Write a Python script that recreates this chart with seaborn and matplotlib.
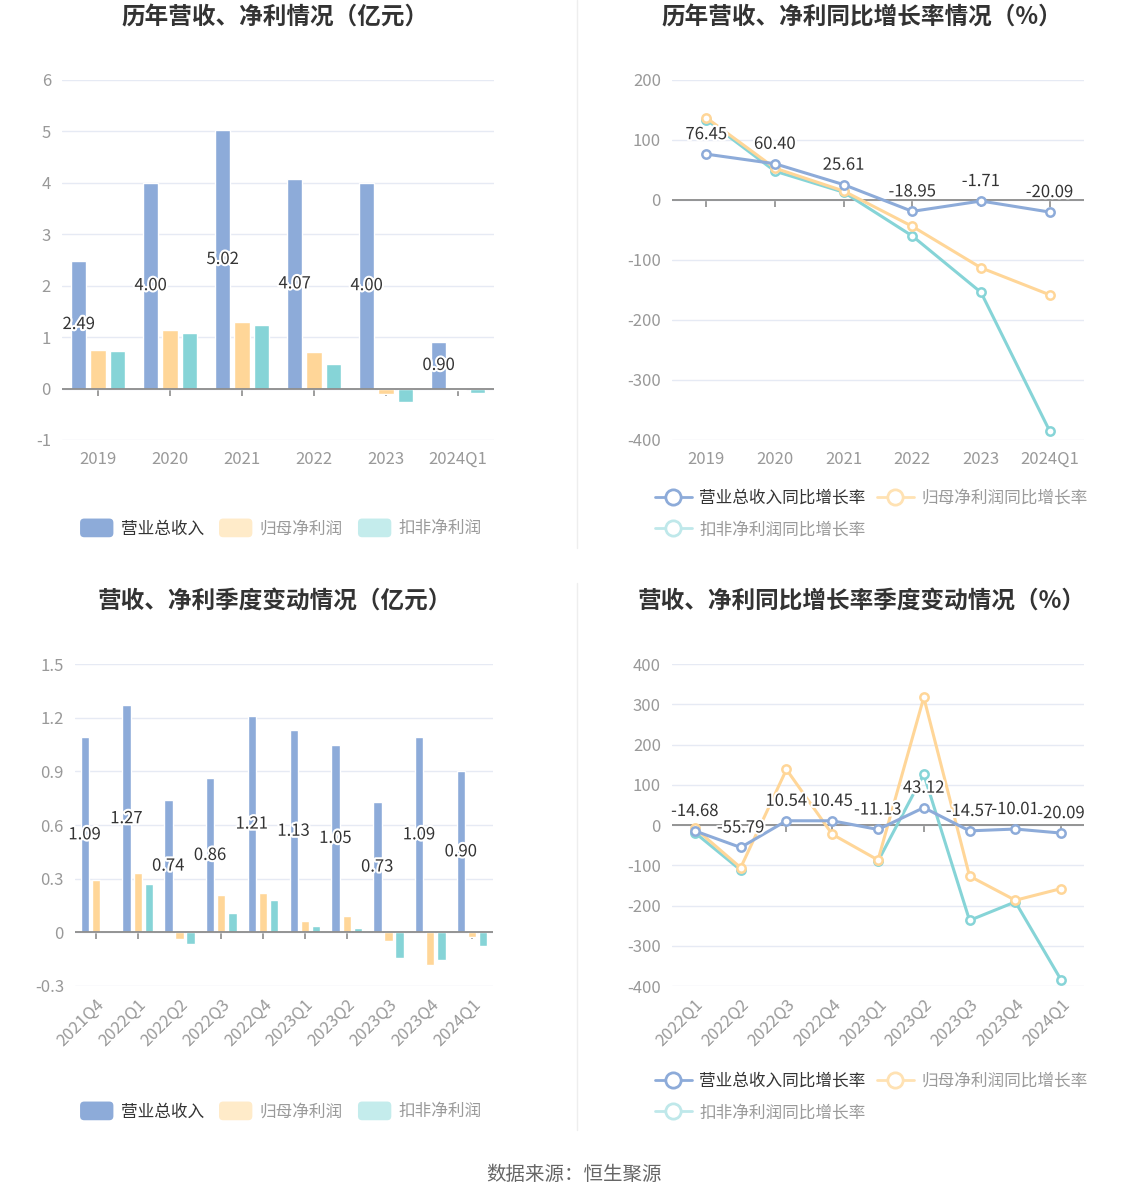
import numpy as np
import pandas as pd
import seaborn as sns
import matplotlib
matplotlib.use('Agg')
import matplotlib.pyplot as plt
from matplotlib.lines import Line2D
from matplotlib.patches import Patch, FancyBboxPatch
from matplotlib.legend_handler import HandlerPatch
import matplotlib.patheffects as pe

# ---------------- data ----------------
years = ['2019', '2020', '2021', '2022', '2023', '2024Q1']
rev_year = [2.49, 4.00, 5.02, 4.07, 4.00, 0.90]
np_year = [0.75, 1.14, 1.29, 0.71, -0.10, -0.03]
ded_year = [0.74, 1.09, 1.23, 0.48, -0.27, -0.08]

rev_g_year = [76.45, 60.40, 25.61, -18.95, -1.71, -20.09]
np_g_year = [137, 53, 15, -44, -113, -158]
ded_g_year = [134, 48, 13, -60, -154, -385]

quarters = ['2021Q4', '2022Q1', '2022Q2', '2022Q3', '2022Q4',
            '2023Q1', '2023Q2', '2023Q3', '2023Q4', '2024Q1']
rev_q = [1.09, 1.27, 0.74, 0.86, 1.21, 1.13, 1.05, 0.73, 1.09, 0.90]
np_q = [0.29, 0.33, -0.04, 0.21, 0.22, 0.065, 0.093, -0.046, -0.185, -0.028]
ded_q = [np.nan, 0.27, -0.067, 0.11, 0.18, 0.033, 0.022, -0.145, -0.154, -0.074]

g_quarters = ['2022Q1', '2022Q2', '2022Q3', '2022Q4', '2023Q1',
              '2023Q2', '2023Q3', '2023Q4', '2024Q1']
rev_g_q = [-14.68, -55.79, 10.54, 10.45, -11.13, 43.12, -14.57, -10.01, -20.09]
np_g_q = [-8, -106, 138, -23, -87, 317, -127, -187, -158]
ded_g_q = [-19, -112, np.nan, np.nan, -90, 126, -237, -191, -385]

bar_names = ['营业总收入', '归母净利润', '扣非净利润']
line_names = ['营业总收入同比增长率', '归母净利润同比增长率', '扣非净利润同比增长率']

# ---------------- style ----------------
sns.set_theme(style='white')
plt.rcParams['font.family'] = ['Noto Sans CJK SC', 'DejaVu Sans']
plt.rcParams['axes.unicode_minus'] = False

C_BLUE = '#8dabd9'
C_ORANGE = '#ffd698'
C_TEAL = '#86d4d7'
colors = [C_BLUE, C_ORANGE, C_TEAL]
legend_patch_colors = [C_BLUE, '#ffebc9', '#c4ecec']
legend_text_colors = ['#333333', '#9a9a9a', '#9a9a9a']
GRID = '#e6eaf4'
TICK = '#999999'
AXIS = '#8c8c8c'

W, H = 1148, 1202
fig = plt.figure(figsize=(W / 100, H / 100), dpi=100)
fig.patch.set_facecolor('white')


def px_axes(l, t, r, b):
    return fig.add_axes([l / W, 1 - b / H, (r - l) / W, (b - t) / H])


def style_axes(ax, ylim, yticks, ylabels, n, cats, rot=False):
    ax.set_ylim(*ylim)
    ax.set_xlim(-0.5, n - 0.5)
    ax.set_yticks(yticks)
    ax.set_yticklabels(ylabels)
    for s in ax.spines.values():
        s.set_visible(False)
    ax.grid(axis='y', color=GRID, lw=1)
    ax.grid(axis='x', visible=False)
    ax.set_axisbelow(True)
    ax.tick_params(axis='y', length=0, labelsize=12, labelcolor=TICK, pad=8)
    ax.set_xticks(range(n))
    if rot:
        ax.set_xticklabels(cats, rotation=45, ha='right', rotation_mode='anchor')
        ax.tick_params(axis='x', length=0, labelsize=12, labelcolor=TICK, pad=7)
    else:
        ax.set_xticklabels(cats)
        ax.tick_params(axis='x', length=0, labelsize=12, labelcolor=TICK, pad=8)
    ax.set_xlabel('')
    ax.set_ylabel('')
    # zero axis line with small ticks
    ax.axhline(0, color=AXIS, lw=1.3, zorder=2.5)
    loc = (0 - ylim[0]) / (ylim[1] - ylim[0])
    sec = ax.secondary_xaxis(loc)
    sec.xaxis.set_ticks_position('bottom')
    sec.set_xticks(range(n))
    sec.set_xticklabels([''] * n)
    sec.tick_params(axis='x', direction='out', length=5, width=1.2, color=AXIS)
    for k in ['top', 'bottom', 'left', 'right']:
        sec.spines[k].set_visible(False)


def bar_panel(ax, cats, rev, npv, ded, ylim, yticks, ylabels, gap):
    n = len(cats)
    df = pd.DataFrame({
        'cat': cats * 3,
        'series': [bar_names[0]] * n + [bar_names[1]] * n + [bar_names[2]] * n,
        'value': list(rev) + list(npv) + list(ded),
    })
    sns.barplot(data=df, x='cat', y='value', hue='series', hue_order=bar_names,
                order=cats, palette=colors, width=0.8, gap=gap, saturation=1,
                errorbar=None, legend=False, ax=ax, zorder=2)
    style_axes(ax, ylim, yticks, ylabels, n, cats, rot=(n > 6))
    for rect, v in zip(ax.containers[0], rev):
        ax.text(rect.get_x() + rect.get_width() / 2, v / 2, f'{v:.2f}',
                ha='center', va='center', fontsize=12, color='#333333', zorder=5,
                path_effects=[pe.withStroke(linewidth=3, foreground='white')])


def line_panel(ax, cats, rev, npv, ded, ylim, yticks, ylabels):
    n = len(cats)
    x = np.arange(n)
    for vals, c, z in zip([ded, npv, rev], [C_TEAL, C_ORANGE, C_BLUE], [3, 3.5, 4]):
        ax.plot(x, vals, color=c, lw=2.2, marker='o', ms=6, mfc='white',
                mec=c, mew=1.8, zorder=z)
    style_axes(ax, ylim, yticks, ylabels, n, cats, rot=(n > 6))
    for i, v in enumerate(rev):
        ax.annotate(f'{v:.2f}', (i, v), xytext=(0, 14), textcoords='offset points',
                    ha='center', va='center', fontsize=12, color='#333333', zorder=6,
                    path_effects=[pe.withStroke(linewidth=3, foreground='white')])


# ---------------- panels ----------------
ax1 = px_axes(62, 80, 494, 440)
bar_panel(ax1, years, rev_year, np_year, ded_year, (-1, 6),
          list(range(-1, 7)), [str(v) for v in range(-1, 7)], gap=0.2)

ax2 = px_axes(672, 80, 1084, 440)
line_panel(ax2, years, rev_g_year, np_g_year, ded_g_year, (-400, 200),
           list(range(-400, 201, 100)), [str(v) for v in range(-400, 201, 100)])

ax3 = px_axes(75, 664, 493, 986)
qt = [-0.3, 0, 0.3, 0.6, 0.9, 1.2, 1.5]
bar_panel(ax3, quarters, rev_q, np_q, ded_q, (-0.3, 1.5),
          qt, ['-0.3', '0', '0.3', '0.6', '0.9', '1.2', '1.5'], gap=0.25)

ax4 = px_axes(672, 664, 1084, 986)
line_panel(ax4, g_quarters, rev_g_q, np_g_q, ded_g_q, (-400, 400),
           list(range(-400, 401, 100)), [str(v) for v in range(-400, 401, 100)])

# ---------------- titles ----------------
title_kw = dict(fontsize=17, fontweight='bold', color='#333333', ha='center', va='center')
fig.text(275 / W, 1 - 18 / H, '历年营收、净利情况（亿元）', **title_kw)
fig.text(862 / W, 1 - 18 / H, '历年营收、净利同比增长率情况（%）', **title_kw)
fig.text(275 / W, 1 - 601 / H, '营收、净利季度变动情况（亿元）', **title_kw)
fig.text(862 / W, 1 - 601 / H, '营收、净利同比增长率季度变动情况（%）', **title_kw)


# ---------------- legends ----------------
class RoundHandler(HandlerPatch):
    def create_artists(self, legend, orig_handle, xdescent, ydescent,
                       width, height, fontsize, trans):
        p = FancyBboxPatch((-xdescent, -ydescent), width, height,
                           boxstyle='round,pad=0,rounding_size=3',
                           facecolor=orig_handle.get_facecolor(),
                           edgecolor='none', transform=trans)
        return [p]


def bar_legend(ycenter):
    handles = [Patch(facecolor=c, edgecolor='none') for c in legend_patch_colors]
    leg = fig.legend(handles, bar_names, loc='center', ncol=3,
                     bbox_to_anchor=(281 / W, 1 - ycenter / H), frameon=False,
                     fontsize=12, handlelength=2.0, handleheight=1.35,
                     handletextpad=0.45, columnspacing=0.9,
                     handler_map={Patch: RoundHandler()})
    for t, c in zip(leg.get_texts(), legend_text_colors):
        t.set_color(c)


def line_legend(ytop):
    lc = [C_BLUE, '#ffe2b3', '#bfe8ea']
    handles = [Line2D([0], [0], color=c, lw=2, marker='o', ms=11, mfc='white',
                      mec=c, mew=2) for c in lc]
    order = [0, 2, 1]
    leg = fig.legend([handles[i] for i in order], [line_names[i] for i in order],
                     loc='upper left', ncol=2,
                     bbox_to_anchor=(640 / W, 1 - ytop / H), frameon=False,
                     fontsize=12, handlelength=2.2, handletextpad=0.45,
                     columnspacing=0.7, labelspacing=0.85)
    for t, i in zip(leg.get_texts(), order):
        t.set_color(legend_text_colors[i])


bar_legend(528)
bar_legend(1111)
line_legend(475)
line_legend(1058)

# divider lines
fig.add_artist(Line2D([577 / W, 577 / W], [1 - 0 / H, 1 - 548 / H], color='#eeeeee', lw=1))
fig.add_artist(Line2D([577 / W, 577 / W], [1 - 583 / H, 1 - 1130 / H], color='#eeeeee', lw=1))

fig.text(0.5, 1 - 1175 / H, '数据来源：恒生聚源', fontsize=14, color='#666666',
         ha='center', va='center')

fig.savefig('out.png', dpi=100, facecolor='white')
